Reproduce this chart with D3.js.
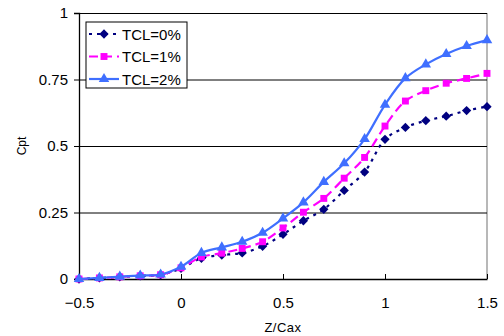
<!DOCTYPE html>
<html>
<head>
<meta charset="utf-8">
<script src="https://cdn.jsdelivr.net/npm/d3@7"></script>
<style>
  body { margin: 0; background: #fff; }
  text { font-family: "Liberation Sans", Arial, sans-serif; }
</style>
</head>
<body>
<div id="chart-area"></div>
<script>
// data
const zCax = [-0.5, -0.4, -0.3, -0.2, -0.1, 0, 0.1, 0.2, 0.3, 0.4, 0.5,
              0.6, 0.7, 0.8, 0.9, 1.0, 1.1, 1.2, 1.3, 1.4, 1.5];
const tcl0 = [0, 0.004, 0.008, 0.012, 0.016, 0.04, 0.078, 0.09, 0.098, 0.123, 0.168,
              0.219, 0.262, 0.333, 0.402, 0.525, 0.570, 0.595, 0.612, 0.633, 0.648];
const tcl1 = [0, 0.004, 0.008, 0.012, 0.016, 0.042, 0.083, 0.097, 0.115, 0.14, 0.192,
              0.251, 0.303, 0.379, 0.457, 0.575, 0.669, 0.708, 0.736, 0.754, 0.773];
const tcl2 = [0, 0.004, 0.009, 0.013, 0.017, 0.046, 0.098, 0.119, 0.14, 0.174, 0.228,
              0.288, 0.365, 0.435, 0.526, 0.655, 0.755, 0.807, 0.846, 0.876, 0.898];
const seriesNames = ['TCL=0%', 'TCL=1%', 'TCL=2%'];
const xTicks = [-0.5, 0, 0.5, 1, 1.5];
const yTicks = [0, 0.25, 0.5, 0.75, 1];

const W = 504, H = 336;
const margin = { left: 79, right: 17, top: 13, bottom: 57 };
const width = W - margin.left - margin.right;
const height = H - margin.top - margin.bottom;

const svg = d3.select('#chart-area')
  .append('svg')
  .attr('width', W)
  .attr('height', H);

const g = svg.append('g')
  .attr('transform', 'translate(' + margin.left + ',' + margin.top + ')');

const x = d3.scaleLinear().domain([-0.5, 1.5]).range([0, width]);
const y = d3.scaleLinear().domain([0, 1]).range([height, 0]);

// right border
g.append('line')
  .attr('x1', width).attr('x2', width)
  .attr('y1', 0).attr('y2', height)
  .attr('stroke', '#a0a0a0').attr('stroke-width', 1.5);

// gridlines
g.selectAll('.grid')
  .data(yTicks.filter(d => d > 0))
  .enter()
  .append('line')
  .attr('class', 'grid')
  .attr('x1', 0).attr('x2', width)
  .attr('y1', d => y(d) + 0.5).attr('y2', d => y(d) + 0.5)
  .attr('stroke', '#000').attr('stroke-width', 1);

// y axis
const yAxis = g.append('g')
  .call(d3.axisLeft(y).tickValues(yTicks).tickSize(5).tickPadding(6)
    .tickFormat(d => d3.format('')(d)));
yAxis.select('.domain').attr('stroke-width', 1.3);
yAxis.selectAll('text').attr('font-size', '15px').attr('fill', '#000')
  .attr('font-family', '"Liberation Sans", Arial, sans-serif');

// x axis, ticks point inward
const xAxis = g.append('g')
  .attr('transform', 'translate(0,' + height + ')')
  .call(d3.axisBottom(x).tickValues(xTicks).tickSizeInner(-5).tickSizeOuter(0).tickPadding(18)
    .tickFormat(d => d3.format('')(d)));
xAxis.select('.domain').attr('stroke-width', 1.3);
xAxis.selectAll('text').attr('font-size', '15px').attr('fill', '#000')
  .attr('font-family', '"Liberation Sans", Arial, sans-serif');

// axis labels
g.append('text')
  .attr('x', width / 2)
  .attr('y', height + 53)
  .attr('font-size', '13px')
  .attr('letter-spacing', '0.5px')
  .attr('text-anchor', 'middle')
  .text('Z/Cax');

g.append('text')
  .attr('transform', 'rotate(-90)')
  .attr('x', -(y(0.5)))
  .attr('y', -53)
  .attr('font-size', '12px')
  .attr('text-anchor', 'middle')
  .text('Cpt');

const series = [
  { name: seriesNames[0], values: tcl0, color: '#000080', dash: '3,5', marker: d3.symbolDiamond2, size: 55 },
  { name: seriesNames[1], values: tcl1, color: '#ff00ff', dash: '9,5', marker: d3.symbolSquare, size: 48 },
  { name: seriesNames[2], values: tcl2, color: '#3f6fff', dash: null, marker: d3.symbolTriangle, size: 48 }
];

const line = d3.line()
  .x((d, i) => x(zCax[i]))
  .y(d => y(d))
  .curve(d3.curveCatmullRom.alpha(0.5));

series.forEach((s, k) => {
  g.append('path')
    .datum(s.values)
    .attr('fill', 'none')
    .attr('stroke', s.color)
    .attr('stroke-width', 2.2)
    .attr('stroke-dasharray', s.dash)
    .attr('d', line);

  g.selectAll('.marker-' + k)
    .data(s.values)
    .enter()
    .append('path')
    .attr('class', 'marker-' + k)
    .attr('transform', (d, i) => 'translate(' + x(zCax[i]) + ',' + y(d) + ')')
    .attr('d', d3.symbol().type(s.marker).size(s.size))
    .attr('fill', s.color);
});

// legend
const lg = svg.append('g').attr('transform', 'translate(86,22)');
lg.append('rect')
  .attr('width', 101).attr('height', 66)
  .attr('fill', '#fff').attr('stroke', '#000').attr('stroke-width', 1);

series.forEach((s, i) => {
  const ly = 12 + i * 22.5;
  lg.append('line')
    .attr('x1', 3).attr('x2', 33)
    .attr('y1', ly).attr('y2', ly)
    .attr('stroke', s.color).attr('stroke-width', 2.2)
    .attr('stroke-dasharray', s.dash);
  lg.append('path')
    .attr('transform', 'translate(18,' + ly + ')')
    .attr('d', d3.symbol().type(s.marker).size(s.size))
    .attr('fill', s.color);
  lg.append('text')
    .attr('x', 36).attr('y', ly + 5.5)
    .attr('font-size', '15px')
    .text(s.name);
});
</script>
</body>
</html>
